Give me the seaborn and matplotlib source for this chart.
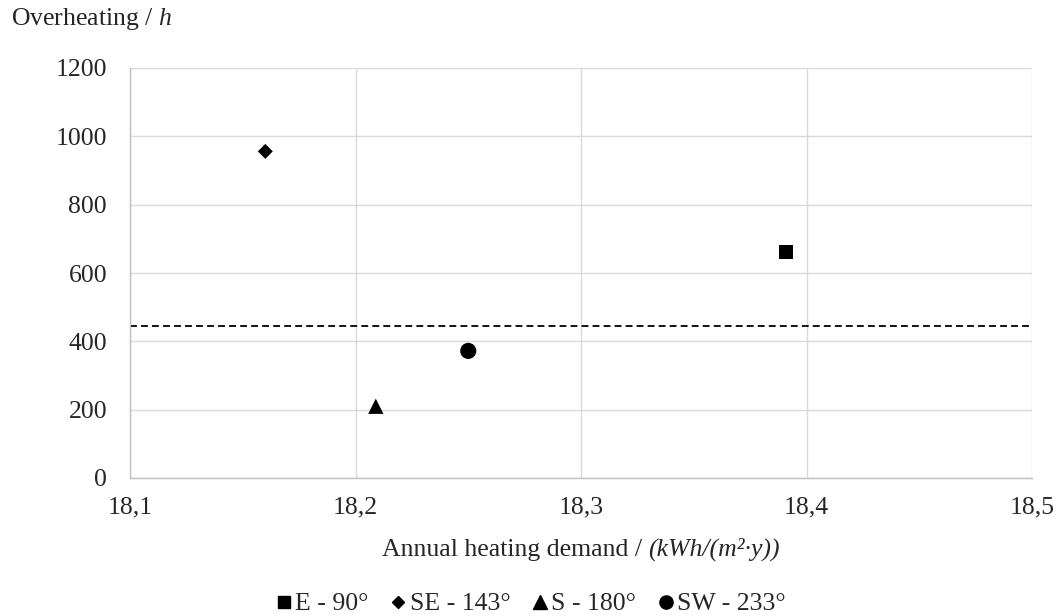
import pandas as pd
import seaborn as sns
import matplotlib.pyplot as plt
from matplotlib.lines import Line2D

# data
orientation = ["E - 90°", "SE - 143°", "S - 180°", "SW - 233°"]
heating_demand = [18.391, 18.16, 18.209, 18.25]
overheating = [661, 956, 210, 372]
limit = 445

x_ticks = [18.1, 18.2, 18.3, 18.4, 18.5]
x_labels = ["18,1", "18,2", "18,3", "18,4", "18,5"]
y_ticks = [0, 200, 400, 600, 800, 1000, 1200]

data = pd.DataFrame({"Orientation": orientation,
                     "Heating": heating_demand,
                     "Overheating": overheating})

sns.set_style("white")
plt.rcParams['font.family'] = ['Liberation Serif', 'DejaVu Serif']
plt.rcParams['mathtext.fontset'] = 'custom'
plt.rcParams['mathtext.rm'] = 'Liberation Serif'
plt.rcParams['mathtext.it'] = 'Liberation Serif:italic'
FS = 18.5

markers = {"E - 90°": "s", "SE - 143°": "D", "S - 180°": "^", "SW - 233°": "o"}
sizes = {"E - 90°": 110, "SE - 143°": 58, "S - 180°": 121, "SW - 233°": 135}

W, H = 1062, 616
fig, ax = plt.subplots(figsize=(W / 100, H / 100), dpi=100)
plt.subplots_adjust(left=130 / W, right=1032 / W, top=1 - 68 / H, bottom=1 - 478 / H)

sns.scatterplot(data=data, x="Heating", y="Overheating", style="Orientation",
                markers=markers, size="Orientation", sizes=sizes,
                color="black", edgecolor="black", linewidth=0, legend=False,
                ax=ax, zorder=3)

ax.axhline(limit, color="black", linestyle=(0, (3.8, 2.3)), linewidth=1.3, zorder=2)

ax.set_xlim(18.1, 18.5)
ax.set_ylim(0, 1200)
ax.set_xticks(x_ticks)
ax.set_xticklabels(x_labels)
ax.set_yticks(y_ticks)
ax.tick_params(axis="y", length=0, labelsize=FS, pad=16.5)
ax.tick_params(axis="x", length=0, labelsize=FS, pad=13)
ax.grid(True, color="#d9d9d9", linewidth=1.0)
for s in ["top", "right"]:
    ax.spines[s].set_visible(False)
for s in ["left", "bottom"]:
    ax.spines[s].set_color("#bfbfbf")
    ax.spines[s].set_linewidth(1.0)
ax.set_xlabel("")
ax.set_ylabel("")

# y title, top left
fig.text(11 / W, 1 - 25 / H, r"Overheating / $\mathit{h}$", fontsize=FS,
         ha="left", va="baseline")

# x title: upright part + italic unit, centred under the axes
fig.canvas.draw()
r = fig.canvas.get_renderer()
base_y = 1 - 556 / H
t1 = fig.text(0, base_y, "Annual heating demand /", fontsize=FS, va="baseline")
t2 = fig.text(0, base_y, "(kWh/(m²·y))", fontsize=FS, style="italic", va="baseline")
w1 = t1.get_window_extent(r).width
w2 = t2.get_window_extent(r).width
space = 0.25 * FS * 100 / 72
x0 = 581 - (w1 + space + w2) / 2
t1.set_x(x0 / W)
t2.set_x((x0 + w1 + space) / W)

msize = {"s": 8.5, "D": 6.5, "^": 10, "o": 9.5}
handles = [Line2D([], [], marker=markers[o], color="black", linestyle="none",
                  markersize=msize[markers[o]]) for o in orientation]
fig.legend(handles, orientation, loc="center", bbox_to_anchor=(0.5, 1 - 604 / H),
           ncol=4, frameon=False, fontsize=FS, handlelength=0.6, borderpad=0,
           borderaxespad=0, handletextpad=0.15, columnspacing=0.85)

plt.savefig("out.png", dpi=100)
